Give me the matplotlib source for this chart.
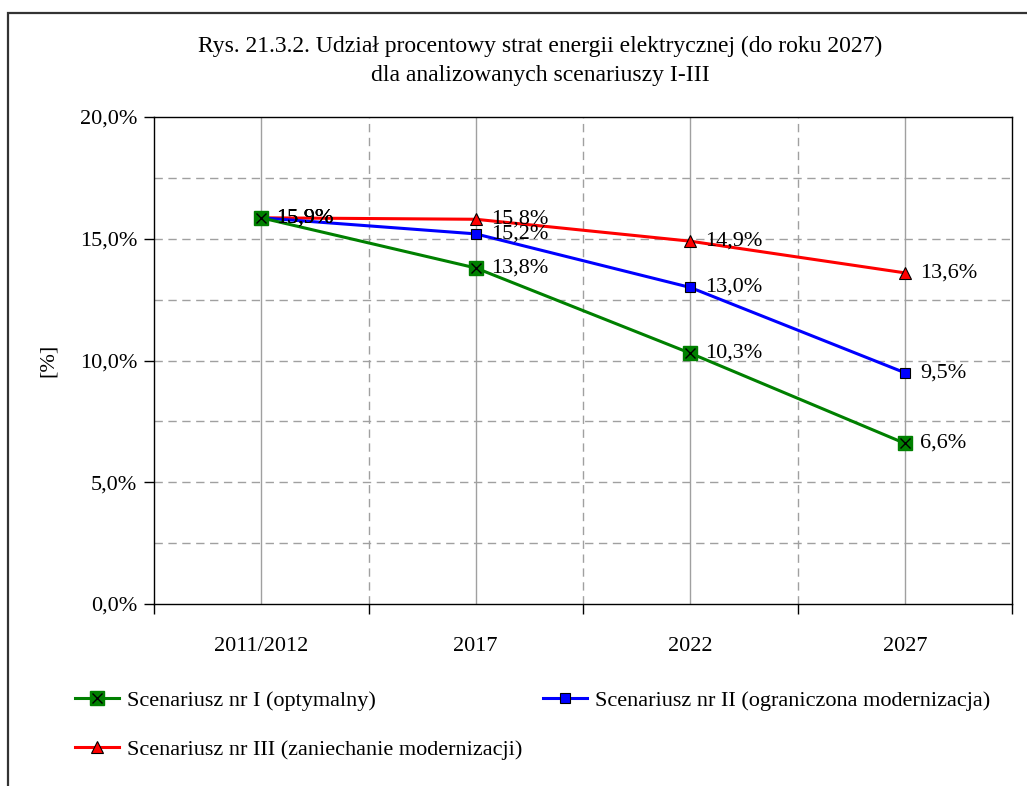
import matplotlib
matplotlib.use("Agg")
import matplotlib.pyplot as plt
from matplotlib.lines import Line2D
from matplotlib.patches import Rectangle

plt.rcParams["font.family"] = ["Liberation Serif", "DejaVu Serif"]

# data
categories = ["2011/2012", "2017", "2022", "2027"]
scen_1 = [15.86, 13.8, 10.3, 6.6]
scen_2 = [15.86, 15.2, 13.0, 9.5]
scen_3 = [15.86, 15.8, 14.9, 13.6]
names = [
    "Scenariusz nr I (optymalny)",
    "Scenariusz nr II (ograniczona modernizacja)",
    "Scenariusz nr III (zaniechanie modernizacji)",
]
title = ("Rys. 21.3.2. Udział procentowy strat energii elektrycznej (do roku 2027)\n"
         "dla analizowanych scenariuszy I-III")

fs = 16
fig = plt.figure(figsize=(10.27, 7.86), dpi=100)
ax = fig.add_axes([154 / 1027, 1 - 604 / 786, (1012 - 154) / 1027, (604 - 117) / 786])

x = list(range(len(categories)))

# series
ax.plot(x, scen_3, color="red", lw=2.2, marker="^", ms=8, mfc="red", mec="black", mew=0.8, zorder=3)
ax.plot(x, scen_2, color="blue", lw=2.2, marker="s", ms=6.5, mfc="blue", mec="black", mew=0.8, zorder=4)
ax.plot(x, scen_1, color="green", lw=2.2, marker="s", ms=10, mfc="green", mec="green", zorder=5)
ax.plot(x, scen_1, ls="none", marker="x", ms=7, mec="black", mew=1.0, zorder=6)

# value labels
for series in (scen_1, scen_2, scen_3):
    for xi, v in zip(x, series):
        ax.annotate(f"{v:.1f}%".replace(".", ","), (xi, v), xytext=(11, 0),
                    textcoords="offset points", ha="left", va="center",
                    fontsize=fs, zorder=7)

ax.set_xlim(-0.5, len(categories) - 0.5)
ax.set_ylim(0, 20)

# axes / ticks
ax.set_xticks(x)
ax.set_xticklabels(categories, fontsize=fs)
ax.tick_params(axis="x", which="major", length=0, pad=24)
ax.set_xticks([i - 0.5 for i in range(len(categories) + 1)], minor=True)
ax.tick_params(axis="x", which="minor", length=7, width=1, direction="out", color="black")

yt = [0, 5, 10, 15, 20]
ax.set_yticks(yt)
ax.set_yticklabels([f"{v:.1f}%".replace(".", ",") for v in yt], fontsize=fs)
ax.tick_params(axis="y", which="major", length=7, width=1, direction="out", pad=5)

# grid
for xi in x:
    ax.axvline(xi, color="#a0a0a0", lw=1, zorder=1)
for xb in [0.5, 1.5, 2.5]:
    ax.axvline(xb, color="#a0a0a0", lw=1, ls=(0, (6, 4)), zorder=1)
for yv in [2.5, 5, 7.5, 10, 12.5, 15, 17.5]:
    ax.axhline(yv, color="#a0a0a0", lw=1, ls=(0, (6, 4)), zorder=1)

for s in ax.spines.values():
    s.set_color("black")
    s.set_linewidth(1)

ax.set_ylabel("[%]", fontsize=fs, labelpad=16)

fig.text(0.526, 1 - 61 / 786, title, ha="center", va="center", fontsize=17,
         linespacing=1.5)

# legend (order so that row 1 = I, II and row 2 = III)
h1 = (Line2D([], [], color="green", lw=2.2, marker="s", ms=10, mfc="green", mec="green"),
      Line2D([], [], ls="none", marker="x", ms=7, mec="black", mew=1.0))
h2 = Line2D([], [], color="blue", lw=2.2, marker="s", ms=6.5, mfc="blue", mec="black", mew=0.8)
h3 = Line2D([], [], color="red", lw=2.2, marker="^", ms=8, mfc="red", mec="black", mew=0.8)
fig.legend([h1, h3, h2], [names[0], names[2], names[1]], ncol=2,
           loc="upper left", bbox_to_anchor=(55 / 1027, 1 - 670 / 786),
           frameon=False, fontsize=fs, handlelength=2.0, handletextpad=0.35,
           columnspacing=0.9, labelspacing=1.3)

# outer chart frame
fig.patches.append(Rectangle((8 / 1027, -0.1), 1.2, 1.1 - 13 / 786, transform=fig.transFigure,
                             fill=False, edgecolor="#333333", lw=1.6))

fig.savefig("out.png", dpi=100)
